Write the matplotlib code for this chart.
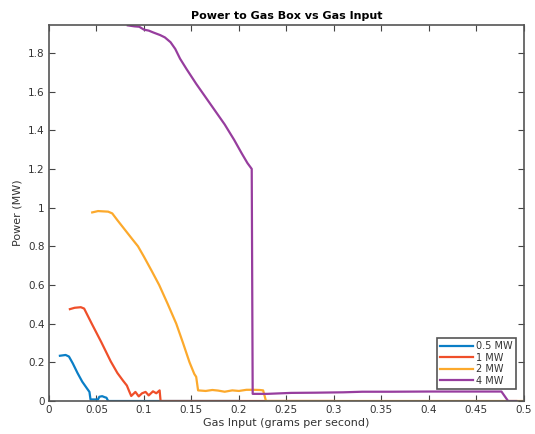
import matplotlib.pyplot as plt

# 0.5 MW
x_05 = [0.0115, 0.0175, 0.021, 0.025, 0.030, 0.035, 0.040, 0.0426, 0.0437, 0.0516,
        0.053, 0.056, 0.0585, 0.0605, 0.0623, 0.10, 0.20]
y_05 = [0.234, 0.238, 0.230, 0.195, 0.145, 0.100, 0.065, 0.047, 0.008, 0.008,
        0.022, 0.025, 0.020, 0.017, 0.0, 0.0, 0.0]

# 1 MW
x_1 = [0.022, 0.027, 0.0335, 0.037, 0.045, 0.055, 0.065, 0.072, 0.078, 0.082, 0.0845,
       0.0866, 0.091, 0.0945, 0.098, 0.1017, 0.105, 0.1095, 0.113, 0.1165, 0.1175,
       0.20, 0.30]
y_1 = [0.475, 0.482, 0.485, 0.478, 0.400, 0.305, 0.205, 0.145, 0.105, 0.080, 0.050,
       0.026, 0.047, 0.024, 0.040, 0.047, 0.029, 0.050, 0.040, 0.055, 0.0,
       0.0, 0.0]

# 2 MW
x_2 = [0.0455, 0.0516, 0.0623, 0.0666, 0.072, 0.080, 0.088, 0.0937, 0.100, 0.108,
       0.116, 0.125, 0.134, 0.141, 0.148, 0.153, 0.155, 0.157, 0.165, 0.172, 0.178,
       0.185, 0.193, 0.200, 0.208, 0.215, 0.222, 0.2255, 0.2285, 0.30, 0.40, 0.498]
y_2 = [0.975, 0.982, 0.979, 0.970, 0.935, 0.885, 0.835, 0.800, 0.746, 0.674,
       0.600, 0.502, 0.400, 0.302, 0.200, 0.140, 0.125, 0.055, 0.052, 0.057, 0.054,
       0.048, 0.055, 0.052, 0.058, 0.058, 0.057, 0.055, 0.0, 0.0, 0.0, 0.0]

# 4 MW
x_4 = [0.083, 0.090, 0.095, 0.100, 0.105, 0.110, 0.117, 0.122, 0.128, 0.133, 0.138,
       0.145, 0.155, 0.165, 0.175, 0.185, 0.195, 0.203, 0.209, 0.2135, 0.2145,
       0.230, 0.255, 0.280, 0.310, 0.330, 0.360, 0.400, 0.440, 0.4765, 0.4835, 0.492]
y_4 = [1.942, 1.937, 1.935, 1.920, 1.915, 1.905, 1.892, 1.880, 1.855, 1.820, 1.770,
       1.715, 1.640, 1.570, 1.500, 1.430, 1.350, 1.280, 1.230, 1.200, 0.037,
       0.037, 0.042, 0.043, 0.045, 0.048, 0.048, 0.049, 0.049, 0.049, 0.0, 0.0]

labels = ["0.5 MW", "1 MW", "2 MW", "4 MW"]
colors = ["#0a7ec6", "#ef4f2a", "#fca92c", "#973d9e"]

fig = plt.figure(figsize=(5.35, 4.34), dpi=100)
ax = fig.add_axes([0.0916, 0.076, 0.8874, 0.8664])

series = [(x_05, y_05), (x_1, y_1), (x_2, y_2), (x_4, y_4)]
for (xs, ys), lab, c in zip(series, labels, colors):
    ax.plot(xs, ys, color=c, lw=1.6, label=lab)

ax.set_xlim(0, 0.5)
ax.set_ylim(0, 1.944)
ax.set_xticks([0, 0.05, 0.1, 0.15, 0.2, 0.25, 0.3, 0.35, 0.4, 0.45, 0.5])
ax.set_xticklabels(["0", "0.05", "0.1", "0.15", "0.2", "0.25", "0.3", "0.35", "0.4", "0.45", "0.5"])
ax.set_yticks([0, 0.2, 0.4, 0.6, 0.8, 1.0, 1.2, 1.4, 1.6, 1.8])
ax.set_yticklabels(["0", "0.2", "0.4", "0.6", "0.8", "1", "1.2", "1.4", "1.6", "1.8"])

ax.tick_params(direction="in", top=True, right=True, length=4, width=0.8,
               colors="#444444", labelsize=7.5, labelcolor="#333333", pad=3)
for s in ax.spines.values():
    s.set_color("#555555")
    s.set_linewidth(1.2)

ax.set_title("Power to Gas Box vs Gas Input", fontsize=8, fontweight="bold", pad=4)
ax.set_xlabel("Gas Input (grams per second)", fontsize=8, color="#333333", labelpad=2)
ax.set_ylabel("Power (MW)", fontsize=8, color="#333333", labelpad=4)

leg = ax.legend(loc="lower right", bbox_to_anchor=(0.983, 0.033), fontsize=7,
                fancybox=False, handlelength=3.4, handletextpad=0.3,
                borderpad=0.3, labelspacing=0.15, framealpha=1, borderaxespad=0)
leg.get_frame().set_edgecolor("#555555")
leg.get_frame().set_linewidth(1.2)
for t in leg.get_texts():
    t.set_color("#333333")

fig.savefig("out.png", dpi=100)
